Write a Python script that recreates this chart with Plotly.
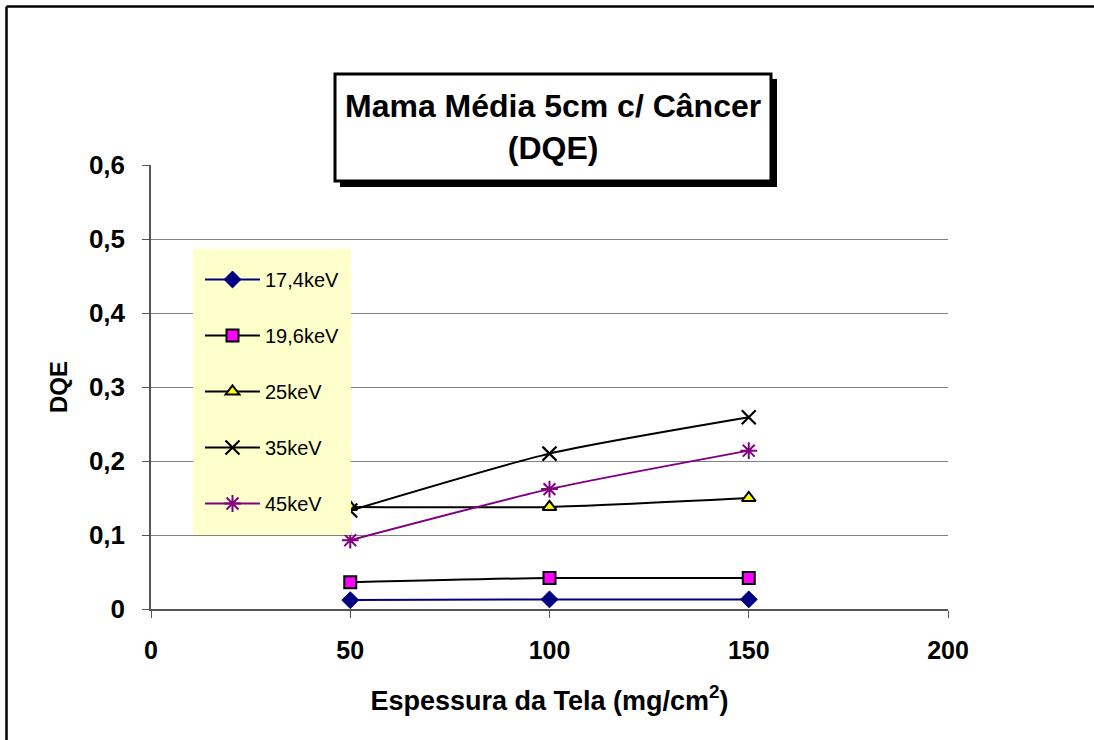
import plotly.graph_objects as go

# Screen thickness (mg/cm^2)
thickness = [50, 100, 150]

# DQE per beam energy
dqe_174 = [0.012, 0.013, 0.013]
dqe_196 = [0.036, 0.042, 0.042]
dqe_25 = [0.138, 0.138, 0.150]
dqe_35 = [0.133, 0.210, 0.259]
dqe_45 = [0.093, 0.162, 0.214]

series_names = ["17,4keV", "19,6keV", "25keV", "35keV", "45keV"]

W, H = 1094, 740
L, R, T, B = 151, 948, 165, 609  # plot area in pixels


def px(x):
    return (x - L) / (R - L)


def py(y):
    return (B - y) / (B - T)


FONT = "Arial, Liberation Sans, sans-serif"

fig = go.Figure()

styles = [
    dict(values=dqe_174, line=dict(color="#000080", width=2),
         marker=dict(symbol="diamond", size=13, color="#000080",
                     line=dict(color="#000080", width=1))),
    dict(values=dqe_196, line=dict(color="#000000", width=2),
         marker=dict(symbol="square", size=12, color="#FF00FF",
                     line=dict(color="#000000", width=2))),
    dict(values=dqe_25, line=dict(color="#000000", width=2),
         marker=dict(symbol="triangle-up", size=12, color="#FFFF00",
                     line=dict(color="#000000", width=2))),
    dict(values=dqe_35, line=dict(color="#000000", width=2),
         marker=dict(symbol="x-thin-open", size=14, color="#000000",
                     line=dict(color="#000000", width=2.2))),
    dict(values=dqe_45, line=dict(color="#800080", width=2),
         marker=dict(symbol="asterisk-open", size=14, color="#800080",
                     line=dict(color="#800080", width=2))),
]

for i, (name, st) in enumerate(zip(series_names, styles)):
    fig.add_trace(go.Scatter(
        x=thickness, y=st["values"], name=name,
        mode="lines+markers",
        line=dict(shape="spline", smoothing=0.6, **st["line"]),
        marker=st["marker"],
        legendgroup=f"g{i}",
    ))

shapes = [
    # outer frame (top and left edges)
    dict(type="line", xref="paper", yref="paper",
         x0=px(6.5), x1=px(W + 5), y0=py(6.5), y1=py(6.5),
         line=dict(color="#000000", width=2.5)),
    dict(type="line", xref="paper", yref="paper",
         x0=px(6.5), x1=px(6.5), y0=py(6.5), y1=py(H + 5),
         line=dict(color="#000000", width=2.5)),
    # legend background
    dict(type="rect", xref="paper", yref="paper", layer="above",
         x0=px(193), x1=px(351), y0=py(249), y1=py(535),
         fillcolor="#FFFFCC", line=dict(width=0)),
    # title box shadow
    dict(type="rect", xref="paper", yref="paper",
         x0=px(340), x1=px(777), y0=py(79), y1=py(187),
         fillcolor="#000000", line=dict(width=0)),
    # title box
    dict(type="rect", xref="paper", yref="paper",
         x0=px(335), x1=px(771), y0=py(74), y1=py(181),
         fillcolor="#FFFFFF", line=dict(color="#000000", width=3)),
]

fig.update_layout(
    width=W, height=H,
    margin=dict(l=L, r=W - R, t=T, b=H - B, pad=0),
    paper_bgcolor="#FFFFFF", plot_bgcolor="#FFFFFF",
    separators=",.",
    font=dict(family=FONT, color="#000000"),
    shapes=shapes,
    showlegend=True,
    legend=dict(
        x=px(200), y=py(260), xanchor="left", yanchor="top",
        bgcolor="rgba(0,0,0,0)", borderwidth=0,
        font=dict(family=FONT, size=20, color="#000000"),
        itemwidth=55, traceorder="grouped", tracegroupgap=27,
    ),
    annotations=[
        dict(xref="paper", yref="paper", x=px(553), y=py(127),
             text="<b>Mama Média 5cm c/ Câncer<br>(DQE)</b>",
             showarrow=False, xanchor="center", yanchor="middle",
             font=dict(family=FONT, size=32, color="#000000")),
    ],
    xaxis=dict(
        range=[0, 200], dtick=50, tick0=0,
        showgrid=False, zeroline=False,
        showline=True, linecolor="#555555", linewidth=1.5,
        ticks="outside", ticklen=7, tickcolor="#555555",
        ticklabelstandoff=11,
        tickfont=dict(family=FONT, size=25, color="#000000", weight="bold"),
        title=dict(text="<b>Espessura da Tela (mg/cm<sup>2</sup>)</b>",
                   font=dict(family=FONT, size=27, color="#000000"),
                   standoff=28),
    ),
    yaxis=dict(
        range=[0, 0.6], dtick=0.1, tick0=0,
        showgrid=True, gridcolor="#808080", gridwidth=1,
        zeroline=False,
        showline=True, linecolor="#555555", linewidth=1.5,
        ticks="outside", ticklen=7, tickcolor="#555555",
        ticklabelstandoff=12,
        tickfont=dict(family=FONT, size=26, color="#000000", weight="bold"),
        title=dict(text="<b>DQE</b>",
                   font=dict(family=FONT, size=24, color="#000000"),
                   standoff=14),
    ),
)

fig.write_html("out.html")
